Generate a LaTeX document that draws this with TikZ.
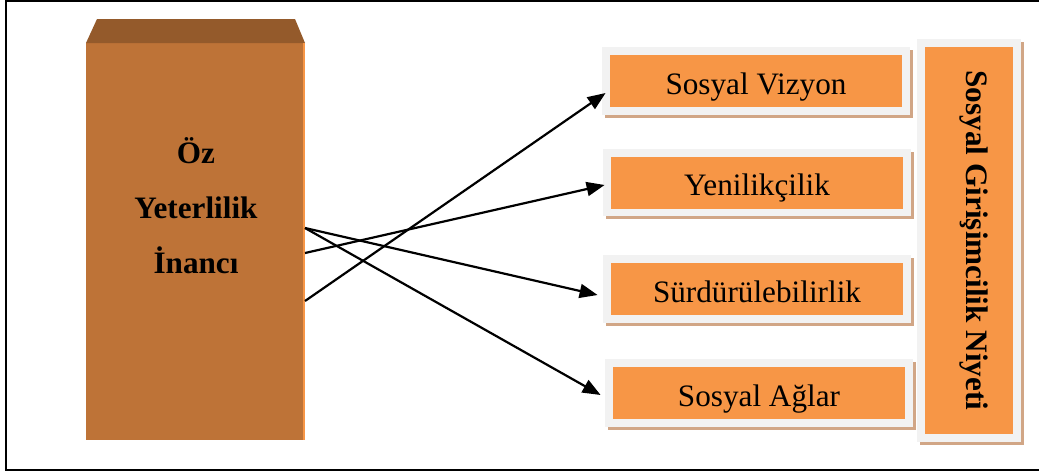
\documentclass[tikz,border=0pt]{standalone}
\usepackage{fontspec}
\setmainfont{Liberation Serif}
\usetikzlibrary{arrows.meta,backgrounds}
\definecolor{ozbrown}{HTML}{BE7337}
\definecolor{oztop}{HTML}{945A2B}
\definecolor{boxorange}{HTML}{F79646}
\definecolor{framegray}{HTML}{F2F2F2}
\definecolor{shadowtan}{HTML}{D1A686}
\begin{document}
\begin{tikzpicture}[x=0.5pt,y=-0.5pt,
    ozbox/.style={fill=ozbrown, minimum width=109.5pt, minimum height=198.5pt, inner sep=0pt, outer sep=0pt},
    oztext/.style={align=center, font=\bfseries\fontsize{15.6}{27.5}\selectfont},
    factor/.style={fill=boxorange, minimum width=146pt, minimum height=26pt, inner sep=0pt,
      text height=15pt, text depth=2pt, font=\fontsize{15.6}{18}\selectfont},
    arrow/.style={-{Triangle[length=9pt,width=7pt]}, line width=1.1pt}]
  \useasboundingbox (0,0) rectangle (1039,472);
  \draw[line width=1pt] (6,0.5) rectangle (1045,470);
  \node[ozbox] (oz) at (195.5,241.5) {};
  \fill[oztop] (oz.north west) -- ([shift={(5.5pt,12pt)}]oz.north west)
    -- ([shift={(-5pt,12pt)}]oz.north east) -- (oz.north east) -- cycle;
  \draw[boxorange, line width=1pt] ([xshift=-0.5pt]oz.north east) -- ([xshift=-0.5pt]oz.south east);
  \node[oztext] (ozlabel) at (196,206) {Öz\\Yeterlilik\\İnancı};
  \node[factor] (vizyon) at (756,81) {Sosyal Vizyon};
  \node[factor] (yenilik) at (757,182.5) {Yenilikçilik};
  \node[factor] (surdur) at (757,289) {Sürdürülebilirlik};
  \node[factor] (aglar) at (759,393) {Sosyal Ağlar};
  \node[factor, minimum width=44pt, minimum height=193.5pt] (niyet) at (969,240.5) {};
  \node[rotate=-90, inner sep=0pt, font=\bfseries\fontsize{15.6}{18}\selectfont]
    (niyetlabel) at (974,240.5) {Sosyal Girişimcilik Niyeti};
  \begin{scope}[on background layer]
    \foreach \n in {vizyon,yenilik,surdur,aglar,niyet}{
      \fill[shadowtan] ([shift={(-2.25pt,-5.25pt)}]\n.south west) rectangle ([shift={(5.25pt,2.25pt)}]\n.north east);
      \fill[framegray] ([shift={(-3.75pt,-3.75pt)}]\n.south west) rectangle ([shift={(3.75pt,3.75pt)}]\n.north east);
    }
  \end{scope}
  \coordinate (oz1) at ([yshift=6.75pt]oz.east);
  \coordinate (oz2) at ([yshift=-5.75pt]oz.east);
  \coordinate (oz3) at ([yshift=-29.75pt]oz.east);
  \begin{scope}[arrow]
    \draw (oz1) -- ([shift={(-6.5pt,-3pt)}]surdur.west);
    \draw (oz1) -- ([shift={(-6pt,-1pt)}]aglar.west);
    \draw (oz2) -- ([shift={(-3pt,-1.25pt)}]yenilik.west);
    \draw (oz3) -- ([shift={(-2pt,-6pt)}]vizyon.west);
  \end{scope}
\end{tikzpicture}
\end{document}
